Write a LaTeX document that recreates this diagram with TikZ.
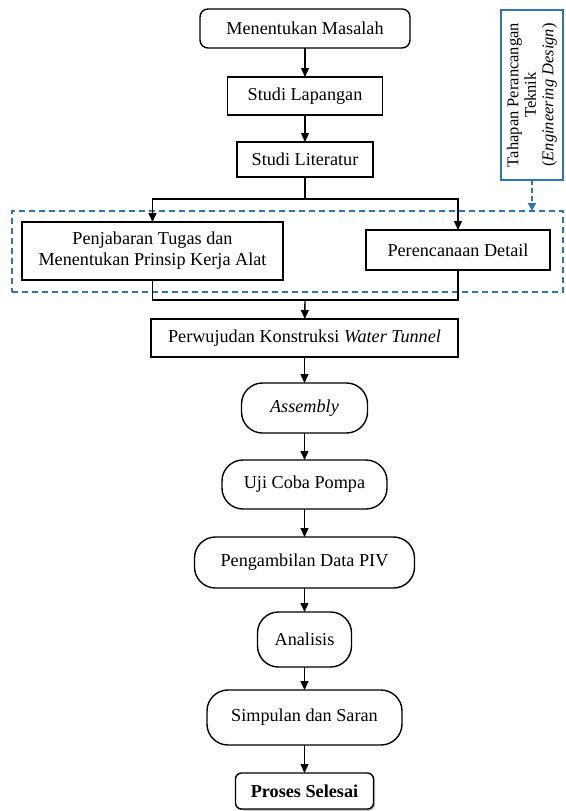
\documentclass[tikz,border=0pt]{standalone}
\usepackage{fontspec}
\setmainfont{Liberation Serif}
\usetikzlibrary{positioning,shadows,arrows.meta}
\definecolor{garisbiru}{RGB}{46,117,182}
\begin{document}
\begin{tikzpicture}[x=1pt,y=1pt,>={Triangle[length=9pt,width=8pt]},node distance=27pt,
  font=\fontsize{18.2}{21}\selectfont]
\tikzstyle{proses}=[rectangle, draw, line width=1.4pt, fill=white, text centered, inner sep=2pt, outer sep=0pt]
\tikzstyle{terminal}=[proses, rounded corners=21pt]
\tikzstyle{alur}=[->, line width=1.4pt]
\tikzstyle{garis}=[line width=1.4pt]
\tikzstyle{kelompok}=[rectangle, draw=garisbiru, line width=1.3pt, dash pattern=on 6pt off 4pt, outer sep=0pt]
\useasboundingbox (0,0) rectangle (565,-811);
% kotak tahapan perancangan
\node[kelompok, minimum width=551pt, minimum height=81pt] (desain) at (287.5,-251.5) {};
\node[rectangle, draw=garisbiru, line width=1.3pt, rotate=90, minimum width=170pt, minimum height=62pt,
  outer sep=0pt, align=center, font=\fontsize{16.5}{17.5}\selectfont] (tahapan) at (532,-95)
  {Tahapan Perancangan\\Teknik\\(\textit{Engineering Design})};
% alur utama
\node[proses, rounded corners=8pt, minimum width=210pt, minimum height=39pt] (masalah) at (305,-28.5) {Menentukan Masalah};
\node[proses, minimum width=155pt, minimum height=38pt, below=29pt of masalah] (lapangan) {Studi Lapangan};
\node[proses, minimum width=136pt, minimum height=35pt, below=of lapangan] (literatur) {Studi Literatur};
\node[proses, minimum width=261pt, minimum height=58pt, align=center] (jabar) at (152.5,-251)
  {Penjabaran Tugas dan\\Menentukan Prinsip Kerja Alat};
\node[proses, minimum width=184pt, minimum height=40pt] (rencana) at (458,-250) {Perencanaan Detail};
\node[proses, minimum width=307pt, minimum height=38pt] (wujud) at (304.5,-338) {Perwujudan Konstruksi \textit{Water Tunnel}};
\node[terminal, minimum width=126pt, minimum height=50pt, below=26pt of wujud] (assembly) {\textit{Assembly}};
\node[terminal, minimum width=165pt, minimum height=49pt, below=of assembly] (uji) {Uji Coba Pompa};
\node[terminal, minimum width=220pt, minimum height=51pt, below=28pt of uji] (data) {Pengambilan Data PIV};
\node[terminal, minimum width=94pt, minimum height=55pt, below=24pt of data] (analisis) {Analisis};
\node[terminal, minimum width=195pt, minimum height=55pt, below=23pt of analisis] (simpulan) {Simpulan dan Saran};
\node[proses, rounded corners=6pt, minimum width=138pt, minimum height=36pt, below=28pt of simpulan,
  drop shadow={shadow xshift=1.5pt, shadow yshift=-1.5pt, opacity=0.6}] (selesai) {\textbf{Proses Selesai}};
\coordinate[below=22pt of literatur.south] (cabang);
\coordinate (gabung) at (305,-300);
\path (masalah) edge[alur] (lapangan)
      (lapangan) edge[alur] (literatur);
\draw[garis] (literatur) -- (cabang);
\draw[alur] (cabang) -| (jabar);
\draw[alur] (cabang) -| (rencana);
\draw[garis] (jabar) |- (gabung);
\draw[garis] (rencana) |- (gabung);
\path (gabung) edge[alur] (wujud)
      (wujud) edge[alur] (assembly)
      (assembly) edge[alur] (uji)
      (uji) edge[alur] (data)
      (data) edge[alur] (analisis)
      (analisis) edge[alur] (simpulan)
      (simpulan) edge[alur] (selesai);
\draw[->, draw=garisbiru, line width=1.3pt, dash pattern=on 5pt off 3pt, >={Triangle[length=8pt,width=8pt]}]
  (tahapan.west) -- (tahapan.west |- desain.north);
\end{tikzpicture}
\end{document}
